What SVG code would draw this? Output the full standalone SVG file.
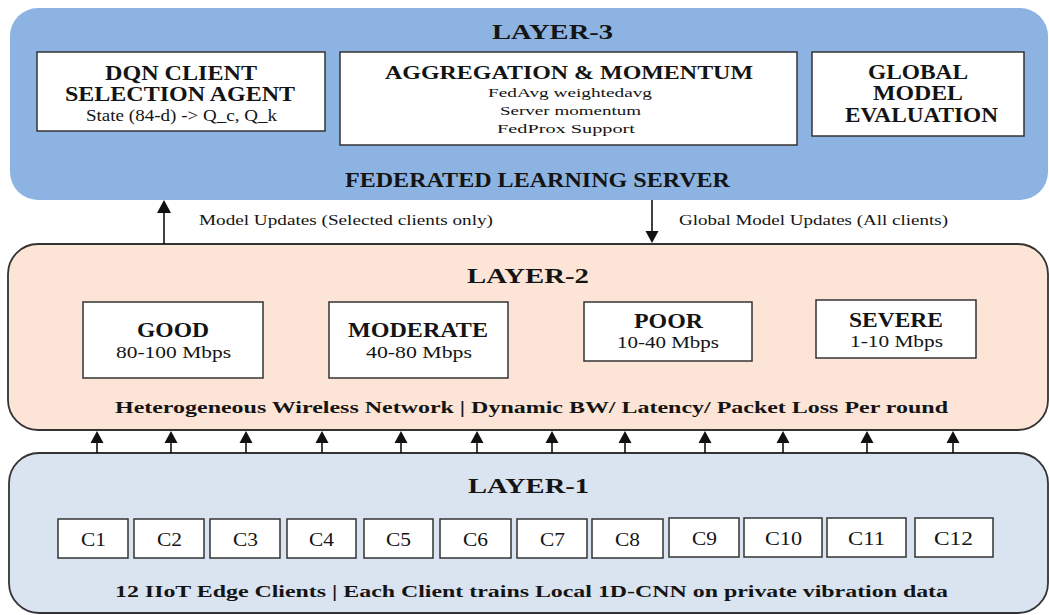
<svg xmlns="http://www.w3.org/2000/svg" width="1049" height="615" viewBox="0 0 1049 615">
  <defs>
    <style>
      text { font-family: "Times New Roman", "Liberation Serif", "DejaVu Serif", serif; fill: #141414; }
      .b { font-weight: bold; }
      .box { fill: #ffffff; stroke: #333333; stroke-width: 1.5; }
      .wire { stroke: #111111; stroke-width: 1.6; fill: none; }
      .head { fill: #111111; }
    </style>
  </defs>

  <!-- Layer 3: federated learning server -->
  <g id="layer3">
    <rect x="10" y="8" width="1038" height="192" rx="28" fill="#8DB3E2"/>
    <text class="b" x="492" y="39" font-size="21.5" textLength="121" lengthAdjust="spacingAndGlyphs">LAYER-3</text>
    <text class="b" x="345" y="187" font-size="20" textLength="385" lengthAdjust="spacingAndGlyphs">FEDERATED LEARNING SERVER</text>
  </g>
  <g id="dqn-agent">
    <rect class="box" x="37" y="52" width="288" height="79"/>
    <text class="b" x="105" y="80" font-size="20" textLength="152" lengthAdjust="spacingAndGlyphs">DQN CLIENT</text>
    <text class="b" x="65" y="101" font-size="20" textLength="230" lengthAdjust="spacingAndGlyphs">SELECTION AGENT</text>
    <text x="86" y="121" font-size="16" textLength="191" lengthAdjust="spacingAndGlyphs">State (84-d) -&gt; Q_c, Q_k</text>
  </g>
  <g id="aggregation">
    <rect class="box" x="340" y="52" width="457" height="93"/>
    <text class="b" x="385" y="79" font-size="19.5" textLength="368" lengthAdjust="spacingAndGlyphs">AGGREGATION &amp; MOMENTUM</text>
    <text x="488" y="97" font-size="13.5" textLength="164" lengthAdjust="spacingAndGlyphs">FedAvg weightedavg</text>
    <text x="500" y="115" font-size="13.5" textLength="141" lengthAdjust="spacingAndGlyphs">Server momentum</text>
    <text x="497" y="133" font-size="13.5" textLength="138" lengthAdjust="spacingAndGlyphs">FedProx Support</text>
  </g>
  <g id="global-eval">
    <rect class="box" x="812" y="52" width="212" height="84"/>
    <text class="b" x="868" y="79" font-size="20" textLength="100" lengthAdjust="spacingAndGlyphs">GLOBAL</text>
    <text class="b" x="873" y="100" font-size="20" textLength="90" lengthAdjust="spacingAndGlyphs">MODEL</text>
    <text class="b" x="845" y="122" font-size="20" textLength="153" lengthAdjust="spacingAndGlyphs">EVALUATION</text>
  </g>

  <!-- Layer 2: heterogeneous wireless network -->
  <g id="layer2">
    <rect x="8" y="244" width="1040" height="186" rx="30" fill="#FCE5D6" stroke="#333333" stroke-width="1.8"/>
    <text class="b" x="467" y="283" font-size="21.5" textLength="122" lengthAdjust="spacingAndGlyphs">LAYER-2</text>
    <text class="b" x="115" y="413" font-size="17.5" textLength="833" lengthAdjust="spacingAndGlyphs">Heterogeneous Wireless Network | Dynamic BW/ Latency/ Packet Loss Per round</text>
  </g>
  <g id="net-good">
    <rect class="box" x="83" y="302" width="180" height="76"/>
    <text class="b" x="137" y="337" font-size="20" textLength="72" lengthAdjust="spacingAndGlyphs">GOOD</text>
    <text x="116" y="358" font-size="16.5" textLength="115" lengthAdjust="spacingAndGlyphs">80-100 Mbps</text>
  </g>
  <g id="net-moderate">
    <rect class="box" x="329" y="302" width="179" height="76"/>
    <text class="b" x="348" y="337" font-size="20" textLength="140" lengthAdjust="spacingAndGlyphs">MODERATE</text>
    <text x="366" y="358" font-size="16.5" textLength="106" lengthAdjust="spacingAndGlyphs">40-80 Mbps</text>
  </g>
  <g id="net-poor">
    <rect class="box" x="584" y="302" width="168" height="59"/>
    <text class="b" x="634" y="328" font-size="20" textLength="69" lengthAdjust="spacingAndGlyphs">POOR</text>
    <text x="617" y="348" font-size="16.5" textLength="102" lengthAdjust="spacingAndGlyphs">10-40 Mbps</text>
  </g>
  <g id="net-severe">
    <rect class="box" x="816" y="300" width="160" height="58"/>
    <text class="b" x="849" y="327" font-size="20" textLength="94" lengthAdjust="spacingAndGlyphs">SEVERE</text>
    <text x="850" y="347" font-size="16.5" textLength="93" lengthAdjust="spacingAndGlyphs">1-10 Mbps</text>
  </g>

  <!-- Layer 1: IIoT edge clients -->
  <g id="layer1">
    <rect x="9" y="453" width="1039" height="160" rx="30" fill="#DAE3F0" stroke="#333333" stroke-width="1.8"/>
    <text class="b" x="468" y="493" font-size="21.5" textLength="121" lengthAdjust="spacingAndGlyphs">LAYER-1</text>
    <text class="b" x="115" y="597" font-size="17.5" textLength="833" lengthAdjust="spacingAndGlyphs">12 IIoT Edge Clients | Each Client trains Local 1D-CNN on private vibration data</text>
  </g>
  <g id="c1"><rect class="box" x="58" y="519" width="70" height="39"/><text x="81" y="546" font-size="19" textLength="25" lengthAdjust="spacingAndGlyphs">C1</text></g>
  <g id="c2"><rect class="box" x="134" y="519" width="70" height="39"/><text x="157" y="546" font-size="19" textLength="25" lengthAdjust="spacingAndGlyphs">C2</text></g>
  <g id="c3"><rect class="box" x="210" y="519" width="70" height="39"/><text x="233" y="546" font-size="19" textLength="25" lengthAdjust="spacingAndGlyphs">C3</text></g>
  <g id="c4"><rect class="box" x="287" y="519" width="69" height="39"/><text x="309" y="546" font-size="19" textLength="25" lengthAdjust="spacingAndGlyphs">C4</text></g>
  <g id="c5"><rect class="box" x="364" y="519" width="69" height="39"/><text x="386" y="546" font-size="19" textLength="25" lengthAdjust="spacingAndGlyphs">C5</text></g>
  <g id="c6"><rect class="box" x="440" y="519" width="71" height="39"/><text x="463" y="546" font-size="19" textLength="25" lengthAdjust="spacingAndGlyphs">C6</text></g>
  <g id="c7"><rect class="box" x="517" y="519" width="70" height="39"/><text x="540" y="546" font-size="19" textLength="25" lengthAdjust="spacingAndGlyphs">C7</text></g>
  <g id="c8"><rect class="box" x="592" y="519" width="71" height="39"/><text x="615" y="546" font-size="19" textLength="25" lengthAdjust="spacingAndGlyphs">C8</text></g>
  <g id="c9"><rect class="box" x="669" y="518" width="70" height="39"/><text x="692" y="545" font-size="19" textLength="25" lengthAdjust="spacingAndGlyphs">C9</text></g>
  <g id="c10"><rect class="box" x="744" y="518" width="78" height="39"/><text x="765" y="545" font-size="19" textLength="37" lengthAdjust="spacingAndGlyphs">C10</text></g>
  <g id="c11"><rect class="box" x="827" y="518" width="79" height="39"/><text x="848" y="545" font-size="19" textLength="37" lengthAdjust="spacingAndGlyphs">C11</text></g>
  <g id="c12"><rect class="box" x="915" y="518" width="78" height="39"/><text x="934" y="545" font-size="19" textLength="39" lengthAdjust="spacingAndGlyphs">C12</text></g>

  <!-- Connectors between layers -->
  <g id="connectors">
    <!-- selected client updates up to the server -->
    <line class="wire" x1="164" y1="244" x2="164" y2="212"/>
    <polygon class="head" points="164,200 157,213 171,213"/>
    <text x="199" y="225" font-size="15" textLength="294" lengthAdjust="spacingAndGlyphs">Model Updates (Selected clients only)</text>
    <!-- global model broadcast down to all clients -->
    <line class="wire" x1="652" y1="200" x2="652" y2="232"/>
    <polygon class="head" points="652,243 645.5,231 658.5,231"/>
    <text x="679" y="225" font-size="15" textLength="269" lengthAdjust="spacingAndGlyphs">Global Model Updates (All clients)</text>
    <!-- client uplinks into the network layer -->
    <g id="uplinks">
      <line class="wire" x1="97" y1="453" x2="97" y2="442"/><polygon class="head" points="97,431 90.5,443 103.5,443"/>
      <line class="wire" x1="171" y1="453" x2="171" y2="442"/><polygon class="head" points="171,431 164.5,443 177.5,443"/>
      <line class="wire" x1="246" y1="453" x2="246" y2="442"/><polygon class="head" points="246,431 239.5,443 252.5,443"/>
      <line class="wire" x1="322" y1="453" x2="322" y2="442"/><polygon class="head" points="322,431 315.5,443 328.5,443"/>
      <line class="wire" x1="401" y1="453" x2="401" y2="442"/><polygon class="head" points="401,431 394.5,443 407.5,443"/>
      <line class="wire" x1="477" y1="453" x2="477" y2="442"/><polygon class="head" points="477,431 470.5,443 483.5,443"/>
      <line class="wire" x1="552" y1="453" x2="552" y2="442"/><polygon class="head" points="552,431 545.5,443 558.5,443"/>
      <line class="wire" x1="625" y1="453" x2="625" y2="442"/><polygon class="head" points="625,431 618.5,443 631.5,443"/>
      <line class="wire" x1="705" y1="453" x2="705" y2="442"/><polygon class="head" points="705,431 698.5,443 711.5,443"/>
      <line class="wire" x1="783" y1="453" x2="783" y2="442"/><polygon class="head" points="783,431 776.5,443 789.5,443"/>
      <line class="wire" x1="867" y1="453" x2="867" y2="442"/><polygon class="head" points="867,431 860.5,443 873.5,443"/>
      <line class="wire" x1="953" y1="453" x2="953" y2="442"/><polygon class="head" points="953,431 946.5,443 959.5,443"/>
    </g>
  </g>
</svg>
